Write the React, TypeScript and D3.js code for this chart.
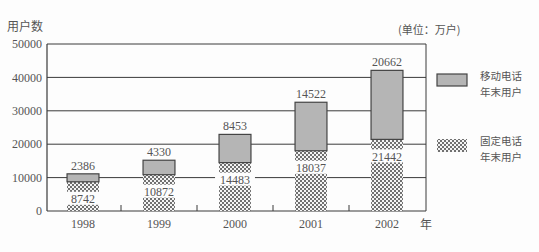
import React from "react";
import * as d3 from "d3";

const years = ["1998", "1999", "2000", "2001", "2002"];
const fixedUsers = [8742, 10872, 14483, 18037, 21442];
const mobileUsers = [2386, 4330, 8453, 14522, 20662];
const yTicks = [0, 10000, 20000, 30000, 40000, 50000];

const W = 539;
const H = 252;
const serif = "'Liberation Serif', 'DejaVu Serif', serif";
const cjk = "'Noto Sans CJK SC', sans-serif";

export default function App() {
  const x = d3.scaleBand<string>().domain(years).range([45, 425]).paddingInner(0.58).paddingOuter(0.29);
  const y = d3.scaleLinear().domain([0, 50000]).range([211, 44]);
  const left = 47;
  const right = 426;
  const bw = x.bandwidth();
  const dividers = years.slice(1).map((yr) => (x(yr)! - (x.step() - bw) / 2));

  return (
    <div style={{ position: "absolute", left: 0, top: 0 }}>
      <svg width={W} height={H} style={{ display: "block", background: "#fdfdfd" }}>
        <defs>
          <pattern id="check" width="4" height="4" patternUnits="userSpaceOnUse">
            <rect width="4" height="4" fill="#f4f4f4" />
            <rect x="0" y="0" width="2" height="2" fill="#707070" />
            <rect x="2" y="2" width="2" height="2" fill="#707070" />
          </pattern>
        </defs>
        {/* grid */}
        {yTicks.map((t) => (
          <g key={t}>
            {t > 0 && (
              <line x1={left} x2={right} y1={y(t)} y2={y(t)} stroke="#3a3a3a" strokeWidth={1} />
            )}
            <text x={42} y={y(t)} dy="0.35em" textAnchor="end" fontFamily={serif} fontSize={12} fill="#555">
              {t}
            </text>
          </g>
        ))}
        {/* frame */}
        <line x1={left} x2={left} y1={y(50000)} y2={y(0)} stroke="#3a3a3a" strokeWidth={1.2} />
        <line x1={right} x2={right} y1={y(50000)} y2={y(0)} stroke="#3a3a3a" strokeWidth={1} />
        <line x1={left} x2={right} y1={y(0)} y2={y(0)} stroke="#3a3a3a" strokeWidth={1.2} />
        {dividers.map((d, i) => (
          <line key={i} x1={d} x2={d} y1={y(0)} y2={y(0) - 6} stroke="#3a3a3a" strokeWidth={1} />
        ))}
        {/* bars */}
        {years.map((yr, i) => {
          const x0 = x(yr)!;
          const f = fixedUsers[i];
          const m = mobileUsers[i];
          const top = f + m;
          const cx = x0 + bw / 2;
          const labelY = y(f) + 17;
          return (
            <g key={yr}>
              <rect x={x0} y={y(f)} width={bw} height={y(0) - y(f)} fill="url(#check)" />
              <rect x={x0} y={y(top)} width={bw} height={y(f) - y(top)} fill="#b5b5b5" stroke="#444" strokeWidth={1.2} />
              <rect x={x0 - 4} y={labelY - 7} width={bw + 8} height={13} fill="#fdfdfd" />
              <text x={cx} y={labelY} dy="0.35em" textAnchor="middle" fontFamily={serif} fontSize={12} fill="#555">
                {f}
              </text>
              <text x={cx} y={y(top) - 4} textAnchor="middle" fontFamily={serif} fontSize={12} fill="#555">
                {m}
              </text>
              <text x={cx} y={228} textAnchor="middle" fontFamily={serif} fontSize={12} fill="#555">
                {yr}
              </text>
            </g>
          );
        })}
        {/* titles */}
        <text x={7} y={31} fontFamily={cjk} fontSize={12} fill="#555">用户数</text>
        <text x={398} y={34} fontFamily={cjk} fontSize={11} fill="#555">(单位：万户)</text>
        <text x={420} y={229} fontFamily={cjk} fontSize={12} fill="#555">年</text>
        {/* legend */}
        <rect x={437} y={74} width={30} height={12} fill="#b5b5b5" stroke="#444" strokeWidth={1.2} />
        <text fontFamily={cjk} fontSize={10.5} fill="#555">
          <tspan x={480} y={80}>移动电话</tspan>
          <tspan x={480} y={95.5}>年末用户</tspan>
        </text>
        <rect x={437} y={139} width={30} height={13} fill="url(#check)" />
        <text fontFamily={cjk} fontSize={10.5} fill="#555">
          <tspan x={480} y={145}>固定电话</tspan>
          <tspan x={480} y={160.5}>年末用户</tspan>
        </text>
      </svg>
    </div>
  );
}
